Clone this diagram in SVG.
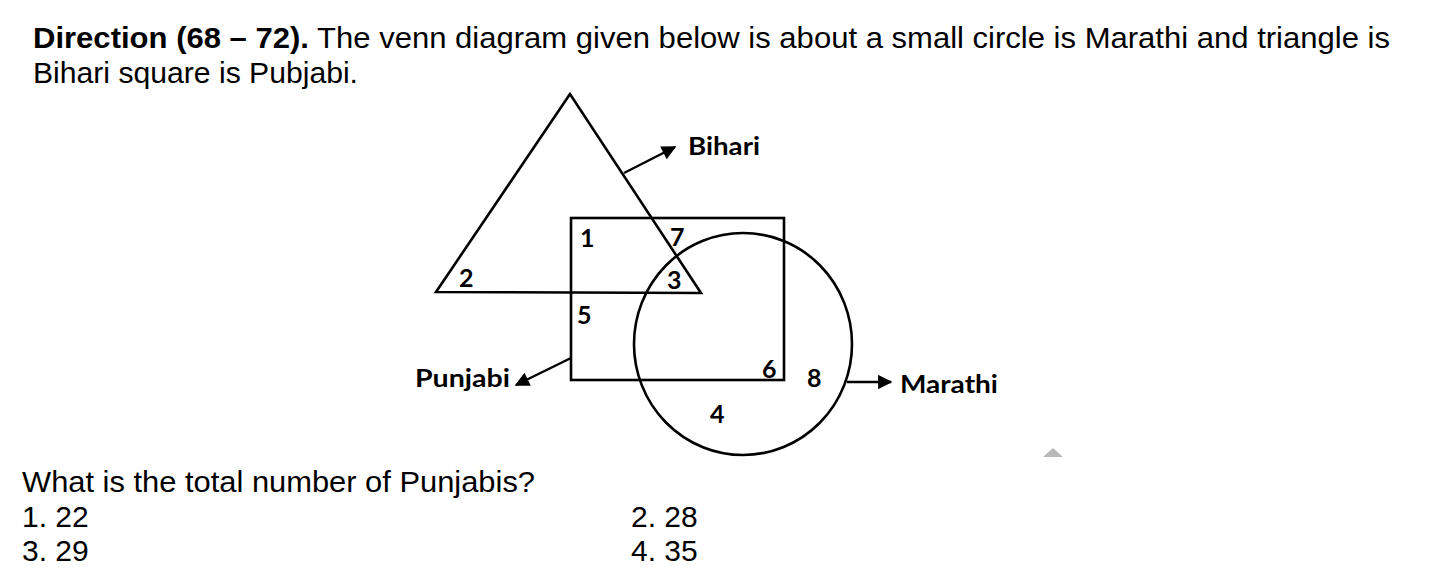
<svg xmlns="http://www.w3.org/2000/svg" width="1452" height="578" viewBox="0 0 1452 578">
<style>
.t{font-family:"Liberation Sans",Arial,sans-serif;font-size:30px;fill:#000}
.b{font-weight:bold}
.lbl{font-family:Lato,"Open Sans",sans-serif;font-size:25px;fill:#000;font-weight:bold}
.num{font-family:Lato,"Open Sans",sans-serif;font-size:25px;fill:#000;font-weight:bold}
.shape{fill:none;stroke:#000;stroke-width:2.6}
.conn{stroke:#000;stroke-width:2.4;fill:none}
</style>
<defs>
<marker id="ah" viewBox="0 0 10 10" refX="9" refY="5" markerWidth="7" markerHeight="6" orient="auto" markerUnits="strokeWidth">
<path d="M0,0 L10,5 L0,10 z" fill="#000"/>
</marker>
</defs>
<rect width="1452" height="578" fill="#fff"/>
<g id="title">
<text class="t" x="33" y="48" textLength="1357" lengthAdjust="spacingAndGlyphs"><tspan class="b">Direction (68 – 72).</tspan> The venn diagram given below is about a small circle is Marathi and triangle is</text>
<text class="t" x="33" y="83" textLength="325" lengthAdjust="spacingAndGlyphs">Bihari square is Pubjabi.</text>
</g>
<g id="bihari">
<polygon class="shape" points="570,94 436,292 701,293"/>
<text class="lbl" x="688" y="155" textLength="72" lengthAdjust="spacingAndGlyphs">Bihari</text>
</g>
<g id="punjabi">
<rect class="shape" x="571" y="218" width="213" height="162"/>
<text class="lbl" x="415" y="387" textLength="95" lengthAdjust="spacingAndGlyphs">Punjabi</text>
</g>
<g id="marathi">
<ellipse class="shape" cx="743" cy="344" rx="109" ry="111"/>
<text class="lbl" x="900" y="393" textLength="98" lengthAdjust="spacingAndGlyphs">Marathi</text>
</g>
<g id="regions">
<text class="num" x="580" y="247">1</text>
<text class="num" x="670" y="246">7</text>
<text class="num" x="459" y="287">2</text>
<text class="num" x="667" y="289">3</text>
<text class="num" x="577" y="324">5</text>
<text class="num" x="762" y="378">6</text>
<text class="num" x="807" y="387">8</text>
<text class="num" x="710" y="423">4</text>
</g>
<g id="connectors">
<line class="conn" x1="624" y1="173" x2="675" y2="147" marker-end="url(#ah)"/>
<line class="conn" x1="571" y1="358" x2="516" y2="385" marker-end="url(#ah)"/>
<line class="conn" x1="847" y1="382" x2="891" y2="382" marker-end="url(#ah)"/>
</g>
<g id="question">
<text class="t" x="22" y="492" textLength="513" lengthAdjust="spacingAndGlyphs">What is the total number of Punjabis?</text>
<text class="t" x="22" y="527">1. 22</text>
<text class="t" x="22" y="561">3. 29</text>
<text class="t" x="631" y="527">2. 28</text>
<text class="t" x="631" y="561">4. 35</text>
</g>
<polygon points="1043,457 1053,448 1063,457" fill="#b8b8b8"/>
</svg>
